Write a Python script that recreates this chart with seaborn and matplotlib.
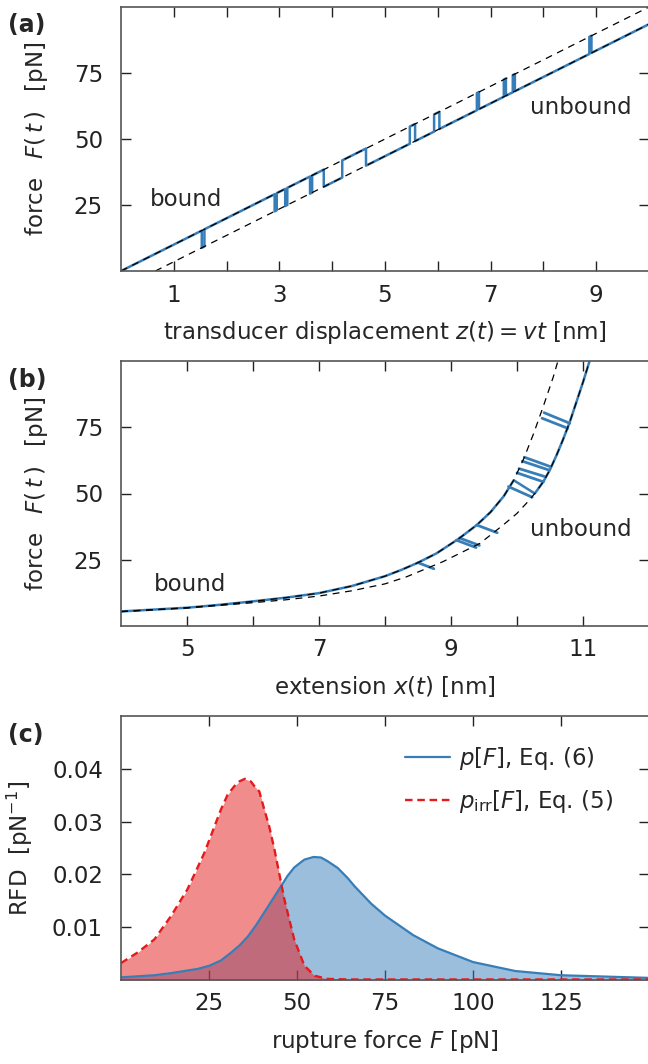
import numpy as np
import pandas as pd
import matplotlib
matplotlib.use("Agg")
import matplotlib.pyplot as plt
import seaborn as sns

# ---------------- data ----------------
# (a) force vs transducer displacement
bound_z = [0.0, 10.0]
bound_F = [0.0, 100.0]
unbound_z = [0.65, 10.0]
unbound_F = [0.0, 93.5]
# blue trajectory vertices (switches between the two branches)
traj_z = [0.00, 1.53, 1.53, 1.58, 1.58, 2.91, 2.91, 2.95, 2.95, 3.11, 3.11, 3.15, 3.15,
          3.58, 3.58, 3.62, 3.62, 3.84, 3.84, 4.19, 4.19, 4.64, 4.64, 5.47, 5.47, 5.57,
          5.57, 5.93, 5.93, 6.03, 6.03, 6.74, 6.74, 6.78, 6.78, 7.25, 7.25, 7.29, 7.29,
          7.42, 7.42, 7.46, 7.46, 8.87, 8.87, 8.91, 8.91, 10.00]
traj_F = [0.0, 15.3, 8.8, 9.3, 15.8, 29.1, 22.6, 23.0, 29.5, 31.1, 24.6, 25.0, 31.5,
          35.8, 29.3, 29.7, 36.2, 38.4, 31.9, 35.4, 41.9, 46.4, 39.9, 48.2, 54.7, 55.7,
          49.2, 52.8, 59.3, 60.3, 53.8, 60.9, 67.4, 67.8, 61.3, 66.0, 72.5, 72.9, 66.4,
          67.7, 74.2, 74.6, 68.1, 82.2, 88.7, 89.1, 82.6, 93.5]

# (b) force vs extension
ext_bound = [4.0, 4.5, 5.0, 5.5, 6.0, 6.5, 7.0, 7.5, 8.0, 8.25, 8.5, 8.78, 9.11, 9.39,
             9.6, 9.8, 9.95, 10.1, 10.25, 10.4, 10.55, 10.62]
F_bound = [5.5, 6.2, 6.9, 8.0, 9.3, 10.7, 12.4, 15.1, 18.8, 21.2, 23.9, 27.4, 32.8, 38.1,
           43.0, 49.0, 55.0, 63.0, 72.5, 83.0, 94.0, 100.0]
ext_unbound = [4.0, 4.5, 5.0, 5.5, 6.0, 6.5, 7.0, 7.5, 8.0, 8.33, 8.88, 9.44, 9.79, 10.0,
               10.15, 10.27, 10.4, 10.5, 10.6, 10.7, 10.8, 10.9, 11.0, 11.1]
F_unbound = [5.4, 6.1, 6.8, 7.8, 8.8, 9.9, 11.3, 13.3, 15.9, 18.6, 24.3, 31.2, 38.1, 42.5,
             46.5, 50.0, 54.5, 59.0, 64.5, 70.5, 77.0, 84.5, 92.0, 100.0]
# blue jump segments: (x0, F0) -> (x1, F1)
jumps_x0 = [8.50, 9.08, 9.13, 9.39, 9.87, 10.00, 10.03, 10.08, 10.11, 10.38, 10.41]
jumps_F0 = [23.9, 32.4, 33.2, 38.1, 52.6, 57.8, 59.4, 62.2, 63.7, 78.4, 80.5]
jumps_x1 = [8.74, 9.38, 9.43, 9.70, 10.23, 10.40, 10.42, 10.49, 10.51, 10.77, 10.80]
jumps_F1 = [21.6, 29.6, 30.4, 35.2, 48.6, 54.4, 56.4, 58.8, 60.1, 74.6, 76.5]

# (c) rupture force distributions
F_p = [0, 9.5, 14.2, 18.9, 21.8, 25.1, 28.4, 31.3, 33.6, 36, 38.4, 40.7, 43.1, 45.5,
       47.3, 49.2, 51.1, 52.1, 54.7, 56.8, 58.7, 61.6, 64.4, 66.3, 71, 75, 83, 90, 100,
       112, 125, 150]
p_F = [0.0005, 0.0009, 0.0013, 0.0018, 0.0021, 0.0027, 0.0037, 0.0052, 0.0065, 0.0082,
       0.0104, 0.0128, 0.0153, 0.0178, 0.0197, 0.0213, 0.0223, 0.0228, 0.0233, 0.0232,
       0.0225, 0.0212, 0.0193, 0.0178, 0.0145, 0.0122, 0.0085, 0.0060, 0.0034, 0.0017,
       0.0009, 0.0004]
F_irr = [0, 4.7, 9.5, 14.2, 18.9, 23.7, 28.4, 30.3, 32.2, 33.6, 35.2, 36.9, 37.9, 39.3,
         40.7, 42.1, 43.6, 46.4, 49.2, 52.1, 55, 58.7, 65, 100, 150]
p_irr = [0.0032, 0.0052, 0.0077, 0.0121, 0.0172, 0.0241, 0.0323, 0.0351, 0.0367, 0.0376,
         0.0381, 0.0376, 0.0367, 0.0357, 0.0323, 0.0291, 0.0247, 0.0153, 0.0077, 0.0027,
         0.0008, 0.0002, 0.0001, 0.0001, 0.0001]

# ---------------- style ----------------
sns.set_theme(style="ticks")
FS = 16.5
plt.rcParams.update({
    'font.family': ['DejaVu Sans'],
    'mathtext.fontset': 'dejavusans',
    'font.size': FS,
    'axes.edgecolor': '#555555',
    'axes.linewidth': 1.2,
    'xtick.direction': 'in', 'ytick.direction': 'in',
    'xtick.top': True, 'ytick.right': True,
    'xtick.major.size': 7, 'ytick.major.size': 7,
    'xtick.major.width': 1.0, 'ytick.major.width': 1.0,
    'xtick.color': '#222222', 'ytick.color': '#222222',
    'xtick.labelsize': FS, 'ytick.labelsize': FS,
    'axes.labelsize': FS,
    'xtick.major.pad': 9, 'ytick.major.pad': 13,
})

blue = '#377eb8'
red = '#e41a1c'
dash_k = (0, (5.5, 4.5))

fig = plt.figure(figsize=(6.48, 10.64), dpi=100)
W, H = 648, 1064
def add_ax(top, bottom):
    return fig.add_axes([121 / W, 1 - bottom / H, 528 / W, (bottom - top) / H])

ax_a = add_ax(7, 271)
ax_b = add_ax(361, 626)
ax_c = add_ax(716, 980)

ylab_force = r'force $\;\;F(\,t\,)\;\;$ [pN]'

# ---------------- (a) ----------------
df_traj = pd.DataFrame({'z': traj_z, 'F': traj_F})
sns.lineplot(data=df_traj, x='z', y='F', sort=False, estimator=None, color=blue,
             lw=1.8, ax=ax_a)
ax_a.plot(bound_z, bound_F, color='black', lw=0.9, ls=dash_k)
ax_a.plot(unbound_z, unbound_F, color='black', lw=0.9, ls=dash_k)
ax_a.set_xlim(0, 10)
ax_a.set_ylim(0, 100)
ax_a.set_xticks(range(1, 10))
ax_a.set_xticklabels([str(i) if i % 2 else '' for i in range(1, 10)])
ax_a.set_yticks([25, 50, 75])
ax_a.set_xlabel(r'transducer displacement $z(t) = vt$ [nm]', labelpad=9)
ax_a.set_ylabel(ylab_force, labelpad=17)
ax_a.text(0.55, 27, 'bound', fontsize=FS, va='center')
ax_a.text(7.75, 62, 'unbound', fontsize=FS, va='center')

# ---------------- (b) ----------------
main_x = [x for x in ext_bound if x <= 9.95] + [x for x in ext_unbound if x >= 10.27]
main_F = ([f for x, f in zip(ext_bound, F_bound) if x <= 9.95] +
          [f for x, f in zip(ext_unbound, F_unbound) if x >= 10.27])
df_main = pd.DataFrame({'x': main_x, 'F': main_F})
sns.lineplot(data=df_main, x='x', y='F', sort=False, estimator=None, color=blue,
             lw=1.8, ax=ax_b)
rows = []
for i in range(len(jumps_x0)):
    rows.append((i, jumps_x0[i], jumps_F0[i]))
    rows.append((i, jumps_x1[i], jumps_F1[i]))
df_jump = pd.DataFrame(rows, columns=['seg', 'x', 'F'])
sns.lineplot(data=df_jump, x='x', y='F', units='seg', estimator=None, sort=False,
             color=blue, lw=2.0, ax=ax_b)
ax_b.plot(ext_bound, F_bound, color='black', lw=0.9, ls=dash_k)
ax_b.plot(ext_unbound, F_unbound, color='black', lw=0.9, ls=dash_k)
ax_b.set_xlim(4, 12)
ax_b.set_ylim(0, 100)
ax_b.set_xticks(range(5, 12))
ax_b.set_xticklabels([str(i) if i % 2 else '' for i in range(5, 12)])
ax_b.set_yticks([25, 50, 75])
ax_b.set_xlabel(r'extension $x(t)$ [nm]', labelpad=9)
ax_b.set_ylabel(ylab_force, labelpad=17)
ax_b.text(4.5, 15.5, 'bound', fontsize=FS, va='center')
ax_b.text(10.2, 36.5, 'unbound', fontsize=FS, va='center')

# ---------------- (c) ----------------
ax_c.fill_between(F_p, p_F, 0, color=blue, alpha=0.5, lw=0)
ax_c.fill_between(F_irr, p_irr, 0, color=red, alpha=0.5, lw=0)
sns.lineplot(x=F_p, y=p_F, color=blue, lw=1.6, ax=ax_c, label=r'$p[F]$, Eq. (6)')
sns.lineplot(x=F_irr, y=p_irr, color=red, lw=1.7, ax=ax_c,
             label=r'$p_{\mathrm{irr}}[F]$, Eq. (5)')
ax_c.lines[-1].set_linestyle((0, (3.2, 2)))
ax_c.set_xlim(0, 150)
ax_c.set_ylim(0, 0.05)
ax_c.set_xticks([25, 50, 75, 100, 125])
ax_c.set_yticks([0.01, 0.02, 0.03, 0.04])
ax_c.set_xlabel(r'rupture force $F$ [pN]', labelpad=9)
ax_c.set_ylabel(r'RFD  [pN$^{-1}$]', labelpad=12)
leg = ax_c.legend(loc='upper left', bbox_to_anchor=(0.538, 0.89), frameon=False,
                  handlelength=1.95, handletextpad=0.4, borderpad=0, borderaxespad=0,
                  fontsize=FS, labelspacing=0.68)
leg.get_lines()[1].set_linestyle((0, (3.2, 2)))

for lab, y in [('(a)', 25), ('(b)', 380), ('(c)', 735)]:
    fig.text(8 / W, 1 - y / H, lab, fontsize=17, fontweight='bold', va='center')

fig.savefig('out.png', dpi=100)
